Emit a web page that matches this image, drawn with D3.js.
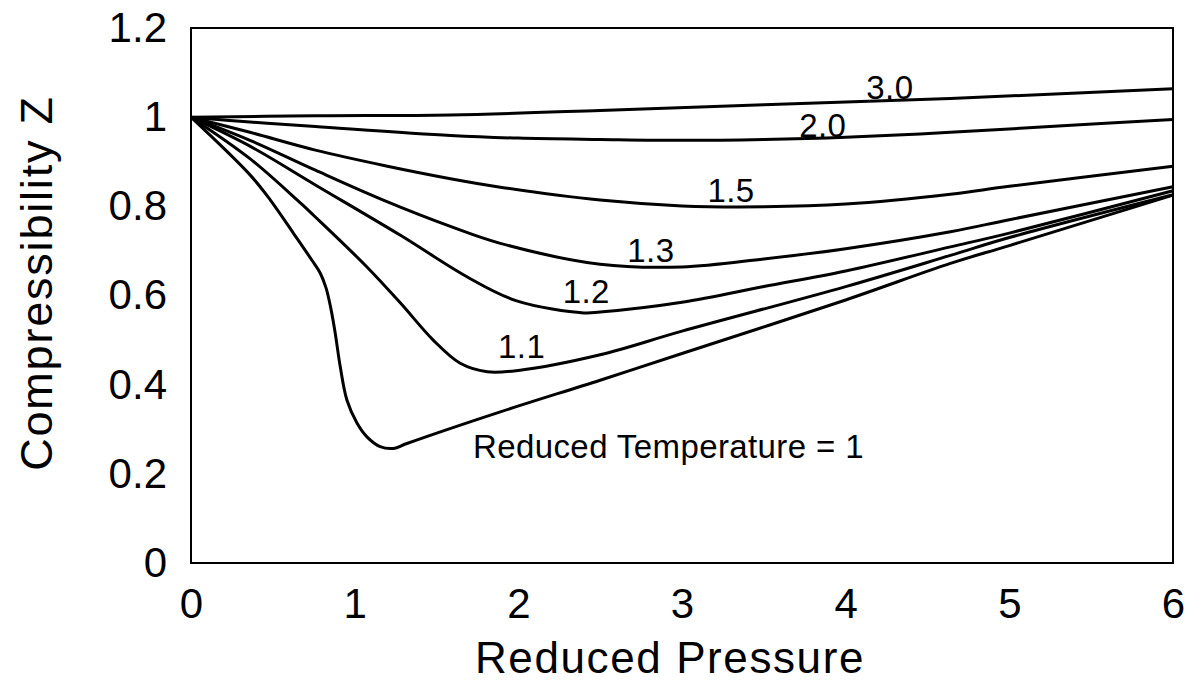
<!DOCTYPE html>
<html>
<head>
<meta charset="utf-8">
<script src="https://cdn.jsdelivr.net/npm/d3@7"></script>
<style>
  html, body { margin: 0; padding: 0; background: #fff; }
  svg { display: block; font-family: "Liberation Sans", Arial, sans-serif; }
</style>
</head>
<body>
<svg id="chart" width="1202" height="692"></svg>
<script>
// ---- Data ----
const xTicks = [0, 1, 2, 3, 4, 5, 6];
const yTicks = [0, 0.2, 0.4, 0.6, 0.8, 1, 1.2];
const yTickLabels = ["0", "0.2", "0.4", "0.6", "0.8", "1", "1.2"];

// Reduced temperature curves: reduced pressure (P) and compressibility (Z)
const tr30P = [0, 0.76, 1.585, 2.5, 3.5, 4.64, 6];
const tr30Z = [1, 1.003, 1.005, 1.015, 1.028, 1.042, 1.064];

const tr20P = [0, 0.36, 0.76, 1.585, 2, 2.5, 3, 3.5, 4, 4.64, 5.3, 6];
const tr20Z = [1, 0.989, 0.979, 0.959, 0.953, 0.95, 0.948, 0.95, 0.955, 0.966, 0.98, 0.995];

const tr15P = [0, 0.36, 0.76, 1.2, 1.585, 1.89, 2.5, 3, 3.5, 4, 4.64, 5, 6];
const tr15Z = [1, 0.966, 0.926, 0.89, 0.862, 0.843, 0.814, 0.801, 0.799, 0.805, 0.827, 0.845, 0.89];

const tr13P = [0, 0.36, 0.76, 1.175, 1.585, 1.89, 2.5, 3, 3.5, 4, 4.64, 5, 6];
const tr13Z = [1, 0.948, 0.881, 0.814, 0.755, 0.717, 0.67, 0.664, 0.682, 0.705, 0.743, 0.77, 0.844];

const tr12P = [0, 0.36, 0.76, 1.28, 1.686, 1.99, 2.4, 2.5, 3, 3.5, 4, 4.64, 5, 6];
const tr12Z = [1, 0.935, 0.848, 0.735, 0.642, 0.588, 0.561, 0.563, 0.585, 0.62, 0.655, 0.709, 0.74, 0.835];

const tr11P = [0, 0.36, 0.67, 0.76, 1.075, 1.28, 1.48, 1.645, 1.81, 2.0, 2.5, 3, 4, 4.64, 5, 6];
const tr11Z = [1, 0.907, 0.807, 0.776, 0.664, 0.583, 0.5, 0.448, 0.429, 0.432, 0.467, 0.52, 0.62, 0.69, 0.73, 0.826];

const tr10P = [0, 0.362, 0.485, 0.627, 0.739, 0.79, 0.825, 0.855, 0.881, 0.912, 0.953, 1.014, 1.075, 1.156, 1.238, 1.319, 1.89, 2.5, 3, 4, 4.64, 5, 6];
const tr10Z = [1, 0.87, 0.814, 0.739, 0.679, 0.65, 0.617, 0.57, 0.516, 0.44, 0.365, 0.314, 0.283, 0.261, 0.257, 0.268, 0.339, 0.41, 0.47, 0.59, 0.672, 0.712, 0.825];

const curveP = [tr30P, tr20P, tr15P, tr13P, tr12P, tr11P, tr10P];
const curveZ = [tr30Z, tr20Z, tr15Z, tr13Z, tr12Z, tr11Z, tr10Z];

// Curve labels and their anchor points (data coordinates)
const labelTexts = ["3.0", "2.0", "1.5", "1.3", "1.2", "1.1", "Reduced Temperature = 1"];
const labelP = [4.27, 3.86, 3.30, 2.81, 2.415, 2.02, 1.723];
const labelZ = [1.04, 0.955, 0.809, 0.675, 0.583, 0.46, 0.235];

// ---- Layout ----
const svg = d3.select("#chart");
const mLeft = 191, mRight = 1173, mTop = 28, mBottom = 563;

const x = d3.scaleLinear().domain([0, 6]).range([mLeft, mRight]);
const y = d3.scaleLinear().domain([0, 1.2]).range([mBottom, mTop]);

// Frame
svg.append("rect")
  .attr("x", mLeft).attr("y", mTop)
  .attr("width", mRight - mLeft).attr("height", mBottom - mTop)
  .attr("fill", "none").attr("stroke", "#000").attr("stroke-width", 2);

// Axes (labels only, no tick marks)
const xAxis = svg.append("g")
  .attr("transform", `translate(0,${mBottom})`)
  .call(d3.axisBottom(x).tickValues(xTicks).tickFormat(d3.format("d")).tickSize(0).tickPadding(25));
const yAxis = svg.append("g")
  .attr("transform", `translate(${mLeft},0)`)
  .call(d3.axisLeft(y).tickValues(yTicks).tickFormat((d, i) => yTickLabels[i]).tickSize(0).tickPadding(24));
[xAxis, yAxis].forEach(g => {
  g.select(".domain").remove();
  g.selectAll("text")
    .attr("font-family", "'Liberation Sans', Arial, sans-serif")
    .attr("font-size", 42).attr("fill", "#000");
});

// Curves
const line = d3.line()
  .x(d => x(d[0])).y(d => y(d[1]))
  .curve(d3.curveCatmullRom.alpha(0.5));

const curves = curveP.map((ps, i) => ps.map((p, j) => [p, curveZ[i][j]]));
svg.append("g").selectAll("path")
  .data(curves)
  .join("path")
  .attr("d", line)
  .attr("fill", "none")
  .attr("stroke", "#000")
  .attr("stroke-width", 3)
  .attr("stroke-linejoin", "round");

// Curve labels
svg.append("g").selectAll("text")
  .data(labelTexts)
  .join("text")
  .attr("x", (d, i) => x(labelP[i]))
  .attr("y", (d, i) => y(labelZ[i]))
  .attr("text-anchor", (d, i) => i === labelTexts.length - 1 ? "start" : "middle")
  .attr("font-size", 33)
  .attr("letter-spacing", 0.4)
  .attr("fill", "#000")
  .text(d => d);

// Axis titles
svg.append("text")
  .attr("x", 670)
  .attr("y", 673)
  .attr("text-anchor", "middle")
  .attr("font-size", 44)
  .attr("letter-spacing", 1.6)
  .attr("fill", "#000")
  .text("Reduced Pressure");

svg.append("text")
  .attr("transform", `translate(52,283) rotate(-90)`)
  .attr("text-anchor", "middle")
  .attr("font-size", 45)
  .attr("letter-spacing", 1.8)
  .attr("fill", "#000")
  .text("Compressibility Z");
</script>
</body>
</html>
